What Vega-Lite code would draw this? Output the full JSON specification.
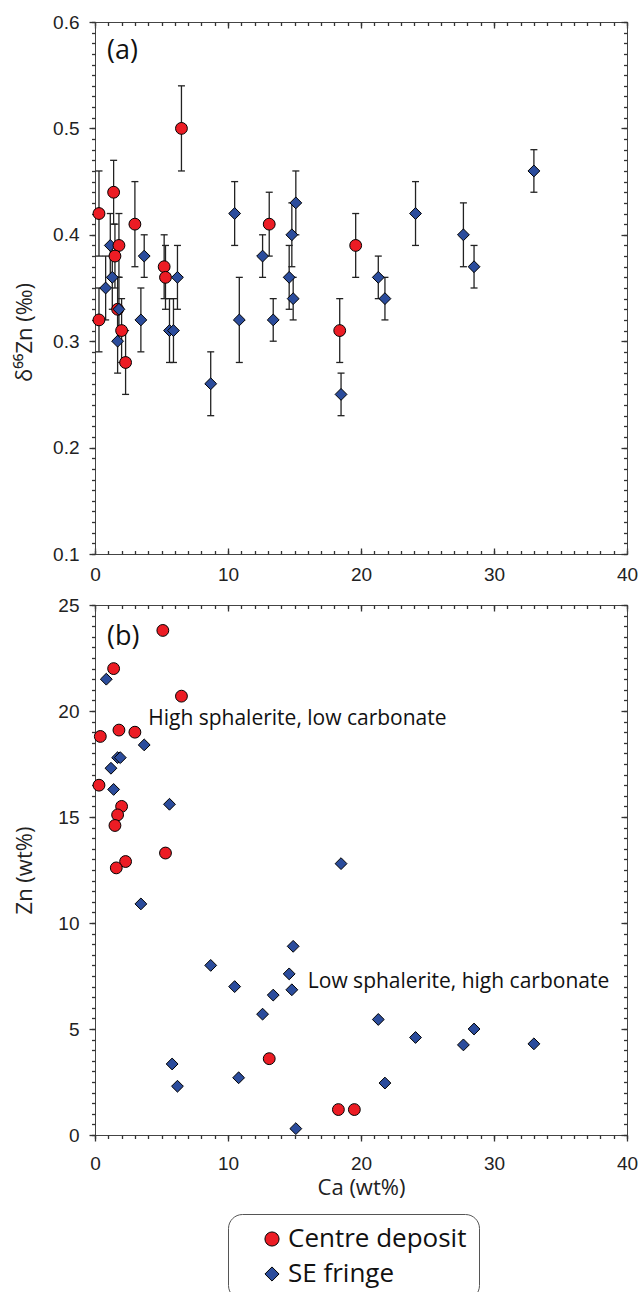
{
  "$schema": "https://vega.github.io/schema/vega-lite/v6.json",
  "padding": {"left": 12, "top": 12, "right": 0, "bottom": 0},
  "background": "white",
  "datasets": {
    "iso": [
      {"g": "Centre deposit", "Ca": 1.7, "d": 0.33, "lo": 0.30, "hi": 0.36},
      {"g": "SE fringe", "Ca": 0.8, "d": 0.35, "lo": 0.32, "hi": 0.38},
      {"g": "SE fringe", "Ca": 1.15, "d": 0.39, "lo": 0.36, "hi": 0.42},
      {"g": "SE fringe", "Ca": 1.3, "d": 0.36, "lo": 0.33, "hi": 0.39},
      {"g": "SE fringe", "Ca": 1.8, "d": 0.33, "lo": 0.30, "hi": 0.36},
      {"g": "SE fringe", "Ca": 1.7, "d": 0.30, "lo": 0.27, "hi": 0.33},
      {"g": "SE fringe", "Ca": 3.7, "d": 0.38, "lo": 0.36, "hi": 0.40},
      {"g": "SE fringe", "Ca": 3.45, "d": 0.32, "lo": 0.29, "hi": 0.35},
      {"g": "SE fringe", "Ca": 5.6, "d": 0.31, "lo": 0.28, "hi": 0.34},
      {"g": "SE fringe", "Ca": 5.9, "d": 0.31, "lo": 0.28, "hi": 0.34},
      {"g": "SE fringe", "Ca": 6.2, "d": 0.36, "lo": 0.33, "hi": 0.39},
      {"g": "SE fringe", "Ca": 8.7, "d": 0.26, "lo": 0.23, "hi": 0.29},
      {"g": "SE fringe", "Ca": 10.5, "d": 0.42, "lo": 0.39, "hi": 0.45},
      {"g": "SE fringe", "Ca": 10.85, "d": 0.32, "lo": 0.28, "hi": 0.36},
      {"g": "SE fringe", "Ca": 12.6, "d": 0.38, "lo": 0.36, "hi": 0.40},
      {"g": "SE fringe", "Ca": 13.4, "d": 0.32, "lo": 0.30, "hi": 0.34},
      {"g": "SE fringe", "Ca": 14.6, "d": 0.36, "lo": 0.33, "hi": 0.39},
      {"g": "SE fringe", "Ca": 14.8, "d": 0.40, "lo": 0.37, "hi": 0.43},
      {"g": "SE fringe", "Ca": 14.9, "d": 0.34, "lo": 0.32, "hi": 0.36},
      {"g": "SE fringe", "Ca": 15.1, "d": 0.43, "lo": 0.40, "hi": 0.46},
      {"g": "SE fringe", "Ca": 18.5, "d": 0.25, "lo": 0.23, "hi": 0.27},
      {"g": "SE fringe", "Ca": 21.3, "d": 0.36, "lo": 0.34, "hi": 0.38},
      {"g": "SE fringe", "Ca": 21.8, "d": 0.34, "lo": 0.32, "hi": 0.36},
      {"g": "SE fringe", "Ca": 24.1, "d": 0.42, "lo": 0.39, "hi": 0.45},
      {"g": "SE fringe", "Ca": 27.7, "d": 0.40, "lo": 0.37, "hi": 0.43},
      {"g": "SE fringe", "Ca": 28.5, "d": 0.37, "lo": 0.35, "hi": 0.39},
      {"g": "SE fringe", "Ca": 33.0, "d": 0.46, "lo": 0.44, "hi": 0.48},
      {"g": "Centre deposit", "Ca": 0.3, "d": 0.42, "lo": 0.38, "hi": 0.46},
      {"g": "Centre deposit", "Ca": 0.3, "d": 0.32, "lo": 0.29, "hi": 0.35},
      {"g": "Centre deposit", "Ca": 1.4, "d": 0.44, "lo": 0.41, "hi": 0.47},
      {"g": "Centre deposit", "Ca": 1.8, "d": 0.39, "lo": 0.36, "hi": 0.42},
      {"g": "Centre deposit", "Ca": 1.5, "d": 0.38, "lo": 0.35, "hi": 0.41},
      {"g": "Centre deposit", "Ca": 2.0, "d": 0.31, "lo": 0.28, "hi": 0.34},
      {"g": "Centre deposit", "Ca": 2.3, "d": 0.28, "lo": 0.25, "hi": 0.31},
      {"g": "Centre deposit", "Ca": 3.0, "d": 0.41, "lo": 0.37, "hi": 0.45},
      {"g": "Centre deposit", "Ca": 5.2, "d": 0.37, "lo": 0.34, "hi": 0.40},
      {"g": "Centre deposit", "Ca": 5.3, "d": 0.36, "lo": 0.33, "hi": 0.39},
      {"g": "Centre deposit", "Ca": 6.5, "d": 0.50, "lo": 0.46, "hi": 0.54},
      {"g": "Centre deposit", "Ca": 13.1, "d": 0.41, "lo": 0.38, "hi": 0.44},
      {"g": "Centre deposit", "Ca": 19.6, "d": 0.39, "lo": 0.36, "hi": 0.42},
      {"g": "Centre deposit", "Ca": 18.4, "d": 0.31, "lo": 0.28, "hi": 0.34}
    ],
    "conc": [
      {"g": "SE fringe", "Ca": 0.85, "Zn": 21.5},
      {"g": "SE fringe", "Ca": 3.7, "Zn": 18.4},
      {"g": "SE fringe", "Ca": 1.7, "Zn": 17.8},
      {"g": "SE fringe", "Ca": 1.9, "Zn": 17.8},
      {"g": "SE fringe", "Ca": 1.2, "Zn": 17.3},
      {"g": "SE fringe", "Ca": 1.4, "Zn": 16.3},
      {"g": "SE fringe", "Ca": 5.6, "Zn": 15.6},
      {"g": "SE fringe", "Ca": 3.45, "Zn": 10.9},
      {"g": "SE fringe", "Ca": 18.5, "Zn": 12.8},
      {"g": "SE fringe", "Ca": 14.9, "Zn": 8.9},
      {"g": "SE fringe", "Ca": 8.7, "Zn": 8.0},
      {"g": "SE fringe", "Ca": 14.6, "Zn": 7.6},
      {"g": "SE fringe", "Ca": 10.5, "Zn": 7.0},
      {"g": "SE fringe", "Ca": 14.8, "Zn": 6.85},
      {"g": "SE fringe", "Ca": 13.4, "Zn": 6.6},
      {"g": "SE fringe", "Ca": 12.6, "Zn": 5.7},
      {"g": "SE fringe", "Ca": 21.3, "Zn": 5.45},
      {"g": "SE fringe", "Ca": 24.1, "Zn": 4.6},
      {"g": "SE fringe", "Ca": 28.5, "Zn": 5.0},
      {"g": "SE fringe", "Ca": 27.7, "Zn": 4.25},
      {"g": "SE fringe", "Ca": 33.0, "Zn": 4.3},
      {"g": "SE fringe", "Ca": 5.8, "Zn": 3.35},
      {"g": "SE fringe", "Ca": 6.2, "Zn": 2.3},
      {"g": "SE fringe", "Ca": 10.8, "Zn": 2.7},
      {"g": "SE fringe", "Ca": 21.8, "Zn": 2.45},
      {"g": "SE fringe", "Ca": 15.1, "Zn": 0.3},
      {"g": "Centre deposit", "Ca": 5.1, "Zn": 23.8},
      {"g": "Centre deposit", "Ca": 1.4, "Zn": 22.0},
      {"g": "Centre deposit", "Ca": 6.5, "Zn": 20.7},
      {"g": "Centre deposit", "Ca": 0.4, "Zn": 18.8},
      {"g": "Centre deposit", "Ca": 1.8, "Zn": 19.1},
      {"g": "Centre deposit", "Ca": 3.0, "Zn": 19.0},
      {"g": "Centre deposit", "Ca": 0.3, "Zn": 16.5},
      {"g": "Centre deposit", "Ca": 2.0, "Zn": 15.5},
      {"g": "Centre deposit", "Ca": 1.7, "Zn": 15.1},
      {"g": "Centre deposit", "Ca": 1.5, "Zn": 14.6},
      {"g": "Centre deposit", "Ca": 5.3, "Zn": 13.3},
      {"g": "Centre deposit", "Ca": 2.3, "Zn": 12.9},
      {"g": "Centre deposit", "Ca": 1.6, "Zn": 12.6},
      {"g": "Centre deposit", "Ca": 13.1, "Zn": 3.6},
      {"g": "Centre deposit", "Ca": 18.3, "Zn": 1.2},
      {"g": "Centre deposit", "Ca": 19.5, "Zn": 1.2}
    ]
  },
  "config": {
    "view": {"stroke": "#444", "strokeWidth": 1},
    "axis": {
      "gridOpacity": 0,
      "domainColor": "#444",
      "tickColor": "#333",
      "tickWidth": 1.3,
      "labelFont": "Liberation Sans",
      "labelFontSize": 19,
      "labelColor": "#222",
      "labelOverlap": false,
      "labelFlush": false,
      "titleFont": "Open Sans",
      "titleFontSize": 22,
      "titleFontWeight": "normal",
      "titleColor": "#222"
    },
    "legend": {
      "orient": "none",
      "legendX": 133,
      "legendY": 1192,
      "title": null,
      "strokeColor": "#555",
      "fillColor": "white",
      "cornerRadius": 14,
      "padding": 12,
      "symbolOffset": 19,
      "symbolSize": 200,
      "symbolStrokeColor": "black",
      "symbolStrokeWidth": 1,
      "labelFont": "Open Sans",
      "labelFontSize": 26,
      "labelColor": "#111",
      "labelOffset": 3,
      "rowPadding": 9,
      "labelLimit": 400
    }
  },
  "spacing": 10,
  "vconcat": [
    {
      "width": 532,
      "height": 532,
      "resolve": {"axis": {"x": "independent", "y": "independent"}},
      "layer": [
        {
          "data": {"name": "iso"},
          "mark": {"type": "rule", "color": "#222", "strokeWidth": 1.3},
          "encoding": {
            "x": {"field": "Ca", "type": "quantitative", "scale": {"domain": [0, 40], "nice": false, "zero": false},
              "axis": {"orient": "bottom", "title": null, "values": [0, 10, 20, 30, 40], "tickSize": -6, "labelPadding": 17}},
            "y": {"field": "lo", "type": "quantitative", "scale": {"domain": [0.1, 0.6], "nice": false, "zero": false},
              "axis": {"orient": "left", "title": "δ⁶⁶Zn (‰)", "titleX": -71, "titleY": 310, "titleBaseline": "middle", "titleAngle": -90,
                "values": [0.1, 0.2, 0.3, 0.4, 0.5, 0.6], "format": ".1f", "tickSize": 6, "labelPadding": 10}},
            "y2": {"field": "hi"}
          }
        },
        {
          "data": {"name": "iso"},
          "mark": {"type": "point", "shape": "M -1 0 L 1 0", "size": 49, "filled": false, "color": "#222", "strokeWidth": 1.3, "opacity": 1},
          "encoding": {
            "x": {"field": "Ca", "type": "quantitative",
              "axis": {"orient": "bottom", "title": null, "labels": false, "domain": false, "tickSize": -3.5,
                "values": [0,1,2,3,4,5,6,7,8,9,10,11,12,13,14,15,16,17,18,19,20,21,22,23,24,25,26,27,28,29,30,31,32,33,34,35,36,37,38,39,40]}},
            "y": {"field": "hi", "type": "quantitative",
              "axis": {"orient": "left", "title": null, "labels": false, "domain": false, "tickSize": 3.5,
                "values": [0.1,0.11,0.12,0.13,0.14,0.15,0.16,0.17,0.18,0.19,0.2,0.21,0.22,0.23,0.24,0.25,0.26,0.27,0.28,0.29,0.3,0.31,0.32,0.33,0.34,0.35,0.36,0.37,0.38,0.39,0.4,0.41,0.42,0.43,0.44,0.45,0.46,0.47,0.48,0.49,0.5,0.51,0.52,0.53,0.54,0.55,0.56,0.57,0.58,0.59,0.6]}}
          }
        },
        {
          "data": {"name": "iso"},
          "mark": {"type": "point", "shape": "M -1 0 L 1 0", "size": 49, "filled": false, "color": "#222", "strokeWidth": 1.3, "opacity": 1},
          "encoding": {
            "x": {"field": "Ca", "type": "quantitative",
              "axis": {"orient": "top", "title": null, "labels": false, "values": [0, 10, 20, 30, 40], "tickSize": -6}},
            "y": {"field": "lo", "type": "quantitative",
              "axis": {"orient": "right", "title": null, "labels": false, "values": [0.1, 0.2, 0.3, 0.4, 0.5, 0.6], "tickSize": -6}}
          }
        },
        {
          "data": {"name": "iso"},
          "mark": {"type": "point", "filled": true, "opacity": 1, "stroke": "black", "strokeWidth": 1, "size": 140},
          "encoding": {
            "x": {"field": "Ca", "type": "quantitative",
              "axis": {"orient": "top", "title": null, "labels": false, "domain": false, "tickSize": -3.5,
                "values": [0,1,2,3,4,5,6,7,8,9,10,11,12,13,14,15,16,17,18,19,20,21,22,23,24,25,26,27,28,29,30,31,32,33,34,35,36,37,38,39,40]}},
            "y": {"field": "d", "type": "quantitative",
              "axis": {"orient": "right", "title": null, "labels": false, "domain": false, "tickSize": -3.5,
                "values": [0.1,0.11,0.12,0.13,0.14,0.15,0.16,0.17,0.18,0.19,0.2,0.21,0.22,0.23,0.24,0.25,0.26,0.27,0.28,0.29,0.3,0.31,0.32,0.33,0.34,0.35,0.36,0.37,0.38,0.39,0.4,0.41,0.42,0.43,0.44,0.45,0.46,0.47,0.48,0.49,0.5,0.51,0.52,0.53,0.54,0.55,0.56,0.57,0.58,0.59,0.6]}},
            "color": {"field": "g", "type": "nominal", "scale": {"domain": ["Centre deposit", "SE fringe"], "range": ["#ec1c24", "#2b4c9c"]}},
            "shape": {"field": "g", "type": "nominal", "scale": {"domain": ["Centre deposit", "SE fringe"], "range": ["circle", "diamond"]}}
          }
        },
        {
          "data": {"values": [{"Ca": 0.9, "v": 0.573, "t": "(a)"}]},
          "mark": {"type": "text", "align": "left", "baseline": "middle", "font": "Open Sans", "fontSize": 27, "color": "#111"},
          "encoding": {
            "x": {"field": "Ca", "type": "quantitative", "axis": null},
            "y": {"field": "v", "type": "quantitative", "axis": null},
            "text": {"field": "t"}
          }
        }
      ]
    },
    {
      "width": 532,
      "height": 530,
      "resolve": {"axis": {"x": "independent", "y": "independent"}},
      "layer": [
        {
          "data": {"name": "conc"},
          "mark": {"type": "point", "filled": true, "opacity": 1, "stroke": "black", "strokeWidth": 1, "size": 140},
          "encoding": {
            "x": {"field": "Ca", "type": "quantitative", "scale": {"domain": [0, 40], "nice": false, "zero": false},
              "axis": {"orient": "bottom", "title": "Ca (wt%)", "titleY": 52, "titleBaseline": "middle",
                "values": [0, 10, 20, 30, 40], "tickSize": 6, "labelPadding": 13}},
            "y": {"field": "Zn", "type": "quantitative", "scale": {"domain": [0, 25], "nice": false, "zero": false},
              "axis": {"orient": "left", "title": "Zn (wt%)", "titleX": -71, "titleBaseline": "middle", "titleAngle": -90,
                "values": [0, 5, 10, 15, 20, 25], "format": "d", "tickSize": 6, "labelPadding": 10}},
            "color": {"field": "g", "type": "nominal", "scale": {"domain": ["Centre deposit", "SE fringe"], "range": ["#ec1c24", "#2b4c9c"]}},
            "shape": {"field": "g", "type": "nominal", "scale": {"domain": ["Centre deposit", "SE fringe"], "range": ["circle", "diamond"]}}
          }
        },
        {
          "data": {"values": [{"Ca": 0.9, "Zn": 23.5, "t": "(b)"}]},
          "mark": {"type": "text", "align": "left", "baseline": "middle", "font": "Open Sans", "fontSize": 27, "color": "#111"},
          "encoding": {
            "x": {"field": "Ca", "type": "quantitative",
              "axis": {"orient": "bottom", "title": null, "labels": false, "domain": false, "tickSize": 3.5,
                "values": [0,1,2,3,4,5,6,7,8,9,10,11,12,13,14,15,16,17,18,19,20,21,22,23,24,25,26,27,28,29,30,31,32,33,34,35,36,37,38,39,40]}},
            "y": {"field": "Zn", "type": "quantitative",
              "axis": {"orient": "left", "title": null, "labels": false, "domain": false, "tickSize": 3.5,
                "values": [0,0.5,1,1.5,2,2.5,3,3.5,4,4.5,5,5.5,6,6.5,7,7.5,8,8.5,9,9.5,10,10.5,11,11.5,12,12.5,13,13.5,14,14.5,15,15.5,16,16.5,17,17.5,18,18.5,19,19.5,20,20.5,21,21.5,22,22.5,23,23.5,24,24.5,25]}},
            "text": {"field": "t"}
          }
        },
        {
          "data": {"values": [{"Ca": 4.0, "Zn": 19.6, "t": "High sphalerite, low carbonate"}]},
          "mark": {"type": "text", "align": "left", "baseline": "middle", "font": "Open Sans", "fontSize": 21, "color": "#111"},
          "encoding": {
            "x": {"field": "Ca", "type": "quantitative",
              "axis": {"orient": "top", "title": null, "labels": false, "values": [0, 10, 20, 30, 40], "tickSize": -6}},
            "y": {"field": "Zn", "type": "quantitative",
              "axis": {"orient": "right", "title": null, "labels": false, "values": [0, 5, 10, 15, 20, 25], "tickSize": -6}},
            "text": {"field": "t"}
          }
        },
        {
          "data": {"values": [{"Ca": 16.0, "Zn": 7.2, "t": "Low sphalerite, high carbonate"}]},
          "mark": {"type": "text", "align": "left", "baseline": "middle", "font": "Open Sans", "fontSize": 21, "color": "#111"},
          "encoding": {
            "x": {"field": "Ca", "type": "quantitative",
              "axis": {"orient": "top", "title": null, "labels": false, "domain": false, "tickSize": -3.5,
                "values": [0,1,2,3,4,5,6,7,8,9,10,11,12,13,14,15,16,17,18,19,20,21,22,23,24,25,26,27,28,29,30,31,32,33,34,35,36,37,38,39,40]}},
            "y": {"field": "Zn", "type": "quantitative",
              "axis": {"orient": "right", "title": null, "labels": false, "domain": false, "tickSize": -3.5,
                "values": [0,0.5,1,1.5,2,2.5,3,3.5,4,4.5,5,5.5,6,6.5,7,7.5,8,8.5,9,9.5,10,10.5,11,11.5,12,12.5,13,13.5,14,14.5,15,15.5,16,16.5,17,17.5,18,18.5,19,19.5,20,20.5,21,21.5,22,22.5,23,23.5,24,24.5,25]}},
            "text": {"field": "t"}
          }
        }
      ]
    }
  ]
}
